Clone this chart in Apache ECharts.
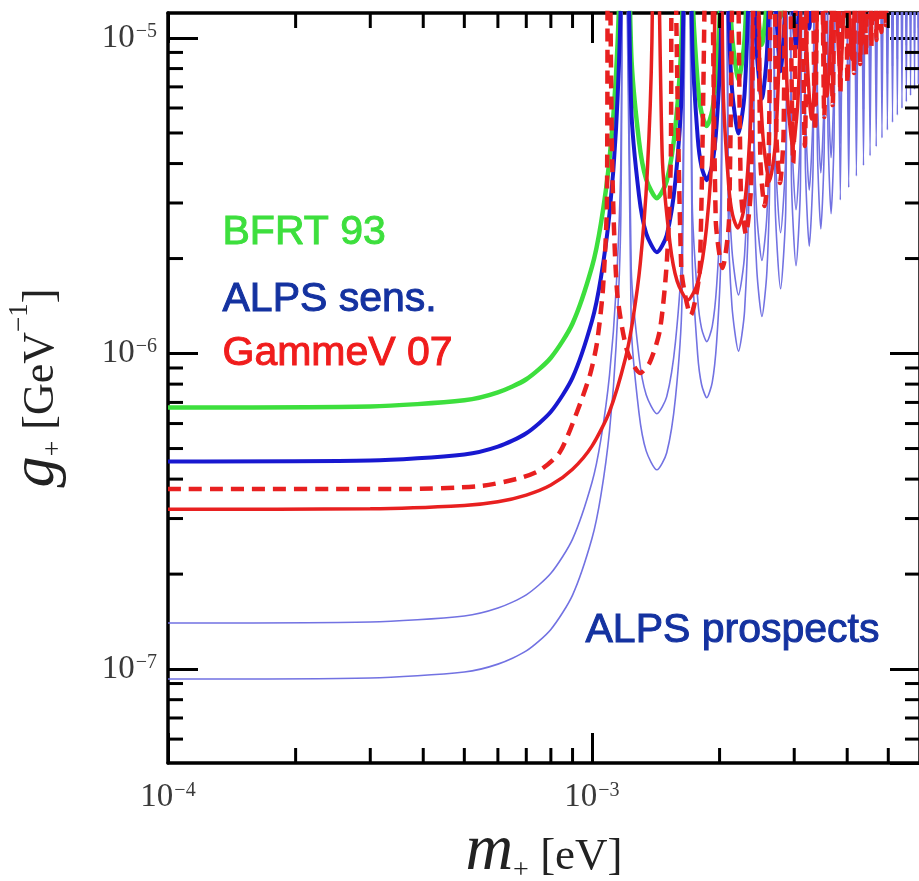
<!DOCTYPE html>
<html>
<head>
<meta charset="utf-8">
<title>g+ vs m+</title>
<script src="https://cdn.jsdelivr.net/npm/echarts@6/dist/echarts.min.js"></script>
<style>
  html, body { margin: 0; padding: 0; background: #fff; }
  #chart { width: 919px; height: 881px; }
</style>
</head>
<body>
<div id="chart"></div>
<script>
  // value used where a curve runs off the top at a resonance null
  var UP = 1e-4

  // axis ranges
  var xMin = 1e-4
  var xMax = 5.94e-3
  var yMin = 5.04e-8
  var yMax = 1.2e-5

  // minor tick values
  var xMinorTicks = [2e-4, 3e-4, 4e-4, 5e-4, 6e-4, 7e-4, 8e-4, 9e-4, 2e-3, 3e-3, 4e-3, 5e-3]
  var yMinorTicks = [6e-8, 7e-8, 8e-8, 9e-8, 2e-7, 3e-7, 4e-7, 5e-7, 6e-7, 7e-7, 8e-7, 9e-7,
    2e-6, 3e-6, 4e-6, 5e-6, 6e-6, 7e-6, 8e-6, 9e-6]

  // m+ [eV] for BFRT 93, ALPS sens. and ALPS prospects (same null positions)
  var massAlps = [
    1.0e-4, 3.0e-4, 5.0e-4, 6.0e-4, 7.0e-4, 8.0e-4, 9.0e-4, 1.00e-3, 1.05e-3, 1.10e-3, 1.14e-3, 1.17e-3, 1.190e-3,
    1.2376e-3, 1.2911e-3, 1.3424e-3, 1.4228e-3, 1.5009e-3, 1.5741e-3, 1.6303e-3, 1.682e-3,
    1.7243e-3, 1.7758e-3, 1.8135e-3, 1.8655e-3, 1.9220e-3, 1.9684e-3, 2.0136e-3, 2.061e-3,
    2.0958e-3, 2.1384e-3, 2.2164e-3, 2.2909e-3, 2.3492e-3, 2.379e-3,
    2.4107e-3, 2.4478e-3, 2.5173e-3, 2.5865e-3, 2.6297e-3, 2.660e-3,
    2.7032e-3, 2.7854e-3, 2.8650e-3, 2.914e-3,
    2.9540e-3, 3.0294e-3, 3.1028e-3, 3.148e-3,
    3.1852e-3, 3.2551e-3, 3.3237e-3, 3.365e-3,
    3.4007e-3, 3.4660e-3, 3.5306e-3, 3.569e-3,
    3.6027e-3, 3.6648e-3, 3.7256e-3, 3.762e-3,
    3.8532e-3, 3.946e-3, 4.0328e-3, 4.121e-3, 4.2047e-3, 4.290e-3, 4.3699e-3, 4.451e-3,
    4.5291e-3, 4.608e-3, 4.6828e-3, 4.759e-3, 4.8316e-3, 4.905e-3, 4.9759e-3, 5.048e-3,
    5.1162e-3, 5.186e-3, 5.2527e-3, 5.320e-3, 5.3858e-3, 5.452e-3, 5.5157e-3, 5.580e-3,
    5.6426e-3, 5.706e-3, 5.7666e-3, 5.829e-3, 5.8880e-3, 5.949e-3
  ]

  // BFRT 93 (green)
  var gBfrt = [
    6.75e-7, 6.80e-7, 7.11e-7, 7.53e-7, 8.29e-7, 9.70e-7, 1.245e-6, 1.881e-6, 2.583e-6, 4.121e-6, 7.668e-6, 1.995e-5, UP,
    8.984e-6, 4.712e-6, 3.567e-6, 3.107e-6, 3.519e-6, 5.262e-6, 1.065e-5, UP,
    1.430e-5, 7.189e-6, 5.794e-6, 5.258e-6, 5.883e-6, 7.904e-6, 1.474e-5, UP,
    2.061e-5, 1.033e-5, 7.391e-6, 9.909e-6, 2.660e-5, UP,
    2.656e-5, 1.340e-5, 9.518e-6, 1.326e-5, 2.967e-5, UP,
    2.234e-5, 1.164e-5, 2.086e-5, UP
  ]

  // ALPS sens. (thick blue)
  var gAlpsSens = [
    4.55e-7, 4.58e-7, 4.79e-7, 5.07e-7, 5.59e-7, 6.54e-7, 8.39e-7, 1.268e-6, 1.741e-6, 2.778e-6, 5.169e-6, 1.345e-5, UP,
    6.056e-6, 3.176e-6, 2.405e-6, 2.094e-6, 2.372e-6, 3.547e-6, 7.180e-6, UP,
    9.641e-6, 4.846e-6, 3.905e-6, 3.544e-6, 3.966e-6, 5.328e-6, 9.937e-6, UP,
    1.390e-5, 6.962e-6, 4.982e-6, 6.679e-6, 1.793e-5, UP,
    1.790e-5, 9.032e-6, 6.416e-6, 8.941e-6, 2.000e-5, UP,
    1.506e-5, 7.849e-6, 1.406e-5, UP,
    1.774e-5, 9.282e-6, 1.668e-5, UP,
    2.031e-5, 1.071e-5, 1.939e-5, UP,
    2.283e-5, 1.214e-5, 2.213e-5, UP
  ]

  // ALPS prospects, upper thin curve
  var gProspectA = [
    1.40e-7, 1.41e-7, 1.474e-7, 1.561e-7, 1.719e-7, 2.012e-7, 2.583e-7, 3.902e-7, 5.356e-7, 8.547e-7, 1.590e-6, 4.138e-6, UP,
    1.863e-6, 9.77e-7, 7.399e-7, 6.444e-7, 7.300e-7, 1.091e-6, 2.209e-6, UP,
    2.967e-6, 1.491e-6, 1.202e-6, 1.091e-6, 1.220e-6, 1.639e-6, 3.058e-6, UP,
    4.276e-6, 2.142e-6, 1.533e-6, 2.055e-6, 5.516e-6, UP,
    5.509e-6, 2.779e-6, 1.974e-6, 2.751e-6, 6.154e-6, UP,
    4.634e-6, 2.415e-6, 4.326e-6, UP,
    5.457e-6, 2.856e-6, 5.132e-6, UP,
    6.248e-6, 3.296e-6, 5.965e-6, UP,
    7.025e-6, 3.737e-6, 6.808e-6, UP,
    7.897e-6, 4.176e-6, 7.570e-6, UP,
    4.616e-6, UP, 5.055e-6, UP, 5.496e-6, UP, 5.936e-6, UP,
    6.376e-6, UP, 6.815e-6, UP, 7.256e-6, UP, 7.696e-6, UP,
    8.135e-6, UP, 8.575e-6, UP, 9.015e-6, UP, 9.456e-6, UP,
    9.895e-6, UP, 1.0335e-5, UP, 1.0774e-5, UP
  ]

  // ALPS prospects, lower thin curve
  var gProspectB = [
    9.30e-8, 9.37e-8, 9.79e-8, 1.037e-7, 1.142e-7, 1.336e-7, 1.716e-7, 2.592e-7, 3.558e-7, 5.678e-7, 1.056e-6, 2.749e-6, UP,
    1.238e-6, 6.49e-7, 4.915e-7, 4.281e-7, 4.849e-7, 7.25e-7, 1.468e-6, UP,
    1.971e-6, 9.90e-7, 7.98e-7, 7.245e-7, 8.106e-7, 1.089e-6, 2.031e-6, UP,
    2.840e-6, 1.423e-6, 1.018e-6, 1.365e-6, 3.664e-6, UP,
    3.660e-6, 1.846e-6, 1.311e-6, 1.827e-6, 4.088e-6, UP,
    3.078e-6, 1.604e-6, 2.874e-6, UP,
    3.625e-6, 1.897e-6, 3.409e-6, UP,
    4.151e-6, 2.189e-6, 3.963e-6, UP,
    4.667e-6, 2.482e-6, 4.523e-6, UP,
    5.246e-6, 2.774e-6, 5.029e-6, UP,
    3.066e-6, UP, 3.358e-6, UP, 3.651e-6, UP, 3.943e-6, UP,
    4.235e-6, UP, 4.527e-6, UP, 4.820e-6, UP, 5.112e-6, UP,
    5.404e-6, UP, 5.696e-6, UP, 5.988e-6, UP, 6.281e-6, UP,
    6.573e-6, UP, 6.865e-6, UP, 7.157e-6, UP
  ]

  // GammeV 07, solid red
  var massGammeV = [
    1.0e-4, 3.0e-4, 5.0e-4, 6.0e-4, 7.0e-4, 8.0e-4, 9.0e-4, 1.0e-3, 1.1e-3, 1.2e-3, 1.25e-3, 1.3e-3, 1.35e-3, 1.385e-3, 1.4077e-3,
    1.4644e-3, 1.5277e-3, 1.5884e-3, 1.6835e-3, 1.7760e-3, 1.8626e-3, 1.9291e-3, 1.9908e-3,
    2.0403e-3, 2.1012e-3, 2.1458e-3, 2.2074e-3, 2.2742e-3, 2.3291e-3, 2.3826e-3, 2.4382e-3,
    2.4798e-3, 2.5303e-3, 2.6226e-3, 2.7107e-3, 2.7797e-3, 2.8154e-3,
    2.8525e-3, 2.8964e-3, 2.9786e-3, 3.0605e-3, 3.1116e-3, 3.1477e-3,
    3.1986e-3, 3.2958e-3, 3.3901e-3, 3.4481e-3,
    3.4953e-3, 3.5846e-3, 3.6714e-3, 3.7244e-3,
    3.7689e-3, 3.8516e-3, 3.9328e-3, 3.9816e-3,
    4.0239e-3, 4.1012e-3, 4.1776e-3, 4.2231e-3,
    4.2629e-3, 4.3364e-3, 4.4083e-3, 4.4516e-3,
    4.5593e-3, 4.6688e-3, 4.7718e-3, 4.8764e-3
  ]
  var gGammeV = [
    3.21e-7, 3.22e-7, 3.30e-7, 3.39e-7, 3.56e-7, 3.83e-7, 4.30e-7, 5.09e-7, 6.55e-7, 9.68e-7, 1.292e-6, 1.927e-6, 3.721e-6, 9.742e-6, UP,
    4.273e-6, 2.241e-6, 1.696e-6, 1.478e-6, 1.674e-6, 2.503e-6, 5.065e-6, UP,
    6.802e-6, 3.419e-6, 2.755e-6, 2.501e-6, 2.798e-6, 3.759e-6, 7.011e-6, UP,
    9.803e-6, 4.911e-6, 3.515e-6, 4.712e-6, 1.265e-5, UP,
    1.263e-5, 6.372e-6, 4.526e-6, 6.308e-6, 1.411e-5, UP,
    1.063e-5, 5.537e-6, 9.919e-6, UP,
    1.251e-5, 6.548e-6, 1.177e-5, UP,
    1.433e-5, 7.556e-6, 1.368e-5, UP,
    1.611e-5, 8.567e-6, 1.561e-5, UP,
    1.811e-5, 9.575e-6, 1.736e-5, UP,
    1.058e-5, UP, 1.159e-5, UP
  ]

  // GammeV 07, dashed red
  var massGammeVDash = [
    1.0e-4, 3.52e-4, 5.44e-4, 6.76e-4, 7.54e-4, 8.40e-4, 9.22e-4, 9.89e-4, 1.0275e-3, 1.061e-3, 1.085e-3, 1.0906e-3,
    1.1149e-3, 1.1455e-3, 1.2092e-3, 1.30e-3, 1.3701e-3, 1.4463e-3, 1.5027e-3, 1.5357e-3, 1.5423e-3,
    1.6240e-3, 1.7101e-3, 1.7973e-3, 1.8890e-3,
    1.9591e-3, 2.0318e-3, 2.1052e-3, 2.1812e-3,
    2.2436e-3, 2.3077e-3, 2.3723e-3, 2.4387e-3,
    2.4954e-3, 2.5534e-3, 2.6117e-3, 2.6714e-3,
    2.7238e-3, 2.7771e-3, 2.8308e-3, 2.8855e-3,
    2.9840e-3, 3.0847e-3, 3.1774e-3, 3.2718e-3, 3.3596e-3, 3.4488e-3, 3.5323e-3, 3.6171e-3,
    3.6969e-3, 3.7779e-3, 3.8545e-3, 3.9322e-3, 4.0060e-3, 4.0807e-3, 4.1519e-3, 4.2239e-3,
    4.2929e-3, 4.3624e-3, 4.4292e-3, 4.4966e-3, 4.5615e-3, 4.6270e-3, 4.6901e-3, 4.7538e-3,
    4.8152e-3, 4.8773e-3, 4.9372e-3, 4.9977e-3
  ]
  var gGammeVDash = [
    3.72e-7, 3.72e-7, 3.80e-7, 4.03e-7, 4.27e-7, 4.87e-7, 6.53e-7, 8.55e-7, 1.080e-6, 1.589e-6, 3.065e-6, UP,
    4.42e-6, 1.589e-6, 1.026e-6, 8.67e-7, 9.40e-7, 1.187e-6, 1.978e-6, 4.42e-6, UP,
    1.872e-6, 1.324e-6, 1.872e-6, UP,
    2.639e-6, 1.866e-6, 2.639e-6, UP,
    3.382e-6, 2.392e-6, 3.382e-6, UP,
    4.149e-6, 2.934e-6, 4.149e-6, UP,
    4.908e-6, 3.471e-6, 4.908e-6, UP,
    4.015e-6, UP, 4.546e-6, UP, 5.072e-6, UP, 5.618e-6, UP,
    6.133e-6, UP, 6.692e-6, UP, 7.200e-6, UP, 7.745e-6, UP,
    8.275e-6, UP, 8.835e-6, UP, 9.365e-6, UP, 9.855e-6, UP,
    1.045e-5, UP, 1.099e-5, UP
  ]

  function pairs (xs, ys) {
    return ys.map(function (g, i) { return [xs[i], g] })
  }

  function powLabel (v) {
    var e = Math.log10(v)
    var r = Math.round(e)
    if (Math.abs(e - r) > 1e-6) return ''
    return '{b|10}{s|\u2212' + (-r) + '}'
  }

  var tickRich = {
    b: { fontFamily: 'Liberation Serif', fontSize: 33, color: '#3a3a3a' },
    s: { fontFamily: 'Liberation Serif', fontSize: 20, color: '#3a3a3a', verticalAlign: 'top', padding: [0, 0, 10, 1] }
  }

  var axisCommon = {
    type: 'log',
    logBase: 10,
    axisLine: { lineStyle: { color: '#000', width: 3.5 } },
    axisTick: { inside: true, length: 30, lineStyle: { color: '#000', width: 3 } },
    splitLine: { show: false },
    minorTick: { show: false }
  }

  function tickSeries (values, xIdx, yIdx, dir) {
    return {
      type: 'custom',
      xAxisIndex: xIdx,
      yAxisIndex: yIdx,
      silent: true,
      z: 10,
      data: values.map(function (v) {
        if (dir === 'up') return [v, yMin]
        if (dir === 'down') return [v, yMax]
        if (dir === 'right') return [xMin, v]
        return [xMax, v]
      }),
      renderItem: function (params, api) {
        var p = api.coord([api.value(0), api.value(1)])
        var len = 15
        var dx = 0
        var dy = 0
        if (dir === 'up') dy = -len
        if (dir === 'down') dy = len
        if (dir === 'right') dx = len
        if (dir === 'left') dx = -len
        return {
          type: 'line',
          shape: { x1: p[0], y1: p[1], x2: p[0] + dx, y2: p[1] + dy },
          style: { stroke: '#000', lineWidth: 3 }
        }
      }
    }
  }

  function curve (name, data, color, width, dash, z) {
    return {
      name: name,
      type: 'line',
      data: data,
      showSymbol: false,
      symbol: 'none',
      smooth: 0.25,
      clip: true,
      z: z,
      lineStyle: { color: color, width: width, type: dash || 'solid' }
    }
  }

  var chart = echarts.init(document.getElementById('chart'))
  var option = {
    animation: false,
    backgroundColor: '#fff',
    grid: { left: 168, top: 13, right: -1, bottom: 118, containLabel: false, outerBoundsMode: 'none' },
    xAxis: [
      Object.assign({}, axisCommon, {
        position: 'bottom',
        min: xMin,
        max: xMax,
        axisLabel: { formatter: powLabel, rich: tickRich, margin: 18, showMinLabel: true, showMaxLabel: false },
        name: '{m|m}{sub|+}{t| [eV]}',
        nameLocation: 'middle',
        nameGap: 56,
        nameTextStyle: {
          rich: {
            m: { fontFamily: 'Liberation Serif', fontStyle: 'italic', fontSize: 66, color: '#222', verticalAlign: 'bottom' },
            sub: { fontFamily: 'Liberation Serif', fontSize: 28, color: '#222', verticalAlign: 'bottom' },
            t: { fontFamily: 'Liberation Serif', fontSize: 45, color: '#222', verticalAlign: 'bottom', padding: [0, 0, 5, 0] }
          }
        }
      }),
      Object.assign({}, axisCommon, {
        position: 'top',
        min: xMin,
        max: xMax,
        axisLabel: { show: false }
      })
    ],
    yAxis: [
      Object.assign({}, axisCommon, {
        position: 'left',
        min: yMin,
        max: yMax,
        axisLabel: { formatter: powLabel, rich: tickRich, margin: 11, showMinLabel: false, showMaxLabel: false },
        name: '{g|g}{sub|+}{t| [GeV}{sup|\u22121}{t|]}',
        nameLocation: 'middle',
        nameRotate: 90,
        nameGap: 100,
        nameTextStyle: {
          rich: {
            g: { fontFamily: 'Liberation Serif', fontStyle: 'italic', fontSize: 62, color: '#222', verticalAlign: 'bottom' },
            sub: { fontFamily: 'Liberation Serif', fontSize: 28, color: '#222', verticalAlign: 'bottom' },
            t: { fontFamily: 'Liberation Serif', fontSize: 44, color: '#222', verticalAlign: 'bottom', padding: [0, 0, 5, 0] },
            sup: { fontFamily: 'Liberation Serif', fontSize: 27, color: '#222', verticalAlign: 'top' }
          }
        }
      }),
      Object.assign({}, axisCommon, {
        position: 'right',
        min: yMin,
        max: yMax,
        axisLabel: { show: false }
      })
    ],
    graphic: [
      { type: 'text', left: 222, top: 212, style: { text: 'BFRT 93', fill: '#3ddf3d', stroke: '#3ddf3d', lineWidth: 1, font: '41px "Liberation Sans"' } },
      { type: 'text', left: 222, top: 279, style: { text: 'ALPS sens.', fill: '#1432a0', stroke: '#1432a0', lineWidth: 1, font: '41px "Liberation Sans"' } },
      { type: 'text', left: 222, top: 333, style: { text: 'GammeV 07', fill: '#f01c1c', stroke: '#f01c1c', lineWidth: 1, font: '41px "Liberation Sans"' } },
      { type: 'text', left: 585, top: 610, style: { text: 'ALPS prospects', fill: '#1432a0', stroke: '#1432a0', lineWidth: 1, font: '41px "Liberation Sans"' } }
    ],
    series: [
      curve('ALPS prospects a', pairs(massAlps, gProspectA), '#7272e2', 1.6, null, 2),
      curve('ALPS prospects b', pairs(massAlps, gProspectB), '#7272e2', 1.6, null, 2),
      curve('BFRT 93', pairs(massAlps, gBfrt), '#3ddf3d', 4.5, null, 3),
      curve('ALPS sens.', pairs(massAlps, gAlpsSens), '#1818d0', 4, null, 4),
      curve('GammeV 07', pairs(massGammeV, gGammeV), '#e82020', 3.5, null, 5),
      curve('GammeV 07 dashed', pairs(massGammeVDash, gGammeVDash), '#e82020', 4.5, [13, 8], 5),
      tickSeries(xMinorTicks, 0, 0, 'up'),
      tickSeries(xMinorTicks, 1, 0, 'down'),
      tickSeries(yMinorTicks, 0, 0, 'right'),
      tickSeries(yMinorTicks, 0, 1, 'left')
    ]
  }
  chart.setOption(option)
  window.addEventListener('resize', function () {
    chart.resize()
  })
</script>
</body>
</html>
